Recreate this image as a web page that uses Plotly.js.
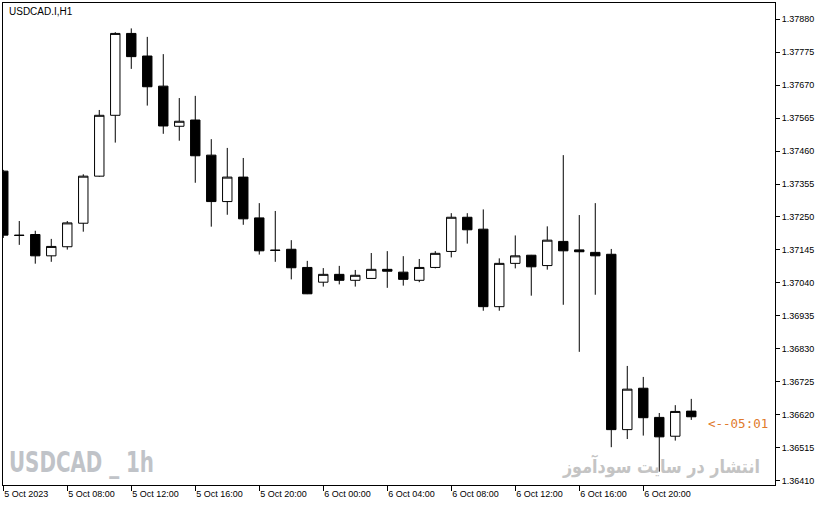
<!DOCTYPE html>
<html>
<head>
<meta charset="utf-8">
<script src="https://cdn.plot.ly/plotly-3.0.1.min.js"></script>
<style>
html,body{margin:0;padding:0;background:#fff;}
#chart{width:821px;height:506px;}
</style>
</head>
<body>
<div id="chart"></div>
<script>
var times = ["2023-10-05 04:00","2023-10-05 05:00","2023-10-05 06:00","2023-10-05 07:00","2023-10-05 08:00","2023-10-05 09:00","2023-10-05 10:00","2023-10-05 11:00","2023-10-05 12:00","2023-10-05 13:00","2023-10-05 14:00","2023-10-05 15:00","2023-10-05 16:00","2023-10-05 17:00","2023-10-05 18:00","2023-10-05 19:00","2023-10-05 20:00","2023-10-05 21:00","2023-10-05 22:00","2023-10-05 23:00","2023-10-06 00:00","2023-10-06 01:00","2023-10-06 02:00","2023-10-06 03:00","2023-10-06 04:00","2023-10-06 05:00","2023-10-06 06:00","2023-10-06 07:00","2023-10-06 08:00","2023-10-06 09:00","2023-10-06 10:00","2023-10-06 11:00","2023-10-06 12:00","2023-10-06 13:00","2023-10-06 14:00","2023-10-06 15:00","2023-10-06 16:00","2023-10-06 17:00","2023-10-06 18:00","2023-10-06 19:00","2023-10-06 20:00","2023-10-06 21:00","2023-10-06 22:00","2023-10-06 23:00"];

var openP = [1.37396,1.37192,1.37194,1.37126,1.37155,1.37230,1.37380,1.37574,1.37835,1.37763,1.37667,1.37539,1.37559,1.37447,1.37299,1.37377,1.37247,1.37143,1.37147,1.37089,1.37042,1.37067,1.37048,1.37054,1.37083,1.37074,1.37048,1.37089,1.37140,1.37249,1.37211,1.36964,1.37102,1.37128,1.37095,1.37172,1.37145,1.37137,1.37131,1.36572,1.36704,1.36611,1.36551,1.36631];
var highP = [1.37400,1.37237,1.37206,1.37180,1.37237,1.37386,1.37591,1.37839,1.37851,1.37824,1.37769,1.37629,1.37636,1.37498,1.37470,1.37438,1.37294,1.37269,1.37176,1.37110,1.37087,1.37094,1.37081,1.37135,1.37141,1.37125,1.37116,1.37141,1.37262,1.37262,1.37274,1.37118,1.37191,1.37129,1.37220,1.37447,1.37256,1.37294,1.37148,1.36775,1.36740,1.36625,1.36650,1.36670];
var lowP = [1.37183,1.37161,1.37101,1.37107,1.37146,1.37203,1.37378,1.37487,1.37722,1.37605,1.37515,1.37493,1.37359,1.37219,1.37257,1.37225,1.37130,1.37107,1.37051,1.37004,1.37028,1.37035,1.37028,1.37053,1.37024,1.37031,1.37042,1.37086,1.37121,1.37165,1.36951,1.36951,1.37086,1.36999,1.37082,1.36970,1.36820,1.37002,1.36516,1.36542,1.36553,1.36438,1.36537,1.36603];
var closeP = [1.37192,1.37191,1.37126,1.37156,1.37231,1.37380,1.37574,1.37835,1.37761,1.37665,1.37540,1.37555,1.37445,1.37299,1.37377,1.37244,1.37142,1.37144,1.37088,1.37005,1.37067,1.37048,1.37064,1.37083,1.37077,1.37051,1.37089,1.37134,1.37249,1.37209,1.36964,1.37102,1.37126,1.37091,1.37176,1.37142,1.37139,1.37126,1.36572,1.36701,1.36610,1.36549,1.36630,1.36613];

var xTickVals = ["2023-10-05 04:00","2023-10-05 08:00","2023-10-05 12:00","2023-10-05 16:00","2023-10-05 20:00","2023-10-06 00:00","2023-10-06 04:00","2023-10-06 08:00","2023-10-06 12:00","2023-10-06 16:00","2023-10-06 20:00"];
var xTickText = ["5 Oct 2023","5 Oct 08:00","5 Oct 12:00","5 Oct 16:00","5 Oct 20:00","6 Oct 00:00","6 Oct 04:00","6 Oct 08:00","6 Oct 12:00","6 Oct 16:00","6 Oct 20:00"];
var yTickText = ["1.36410","1.36515","1.36620","1.36725","1.36830","1.36935","1.37040","1.37145","1.37250","1.37355","1.37460","1.37565","1.37670","1.37775","1.37880"];

var chartTitle = "USDCAD.I,H1";
var timerText = "<--05:01";
var watermark = "USDCAD _ 1h";
var persianText = "انتشار در سایت سودآموز";

var trace = {
  type: "candlestick",
  x: times, open: openP, high: highP, low: lowP, close: closeP,
  whiskerwidth: 0,
  increasing: {line: {color: "#000000", width: 1}, fillcolor: "#ffffff"},
  decreasing: {line: {color: "#000000", width: 1}, fillcolor: "#000000"},
  hoverinfo: "skip"
};

var axisFont = {family: "Liberation Sans, Arial, sans-serif", size: 9, color: "#000000"};

var layout = {
  width: 821, height: 506,
  margin: {l: 3, r: 46, t: 3, b: 21, pad: 0},
  paper_bgcolor: "#ffffff", plot_bgcolor: "#ffffff",
  showlegend: false,
  boxgap: 0.16,
  xaxis: {
    type: "date",
    range: ["2023-10-05 03:59", "2023-10-07 04:14"],
    rangeslider: {visible: false},
    showgrid: false, zeroline: false,
    showline: true, linecolor: "#000000", linewidth: 1, mirror: true,
    ticks: "outside", ticklen: 5, tickcolor: "#000000", tickwidth: 1,
    tickmode: "array", tickvals: xTickVals, ticktext: xTickText,
    ticklabelposition: "outside right",
    tickfont: axisFont,
    fixedrange: true
  },
  yaxis: {
    side: "right",
    range: [1.363955, 1.37932],
    showgrid: false, zeroline: false,
    showline: true, linecolor: "#000000", linewidth: 1, mirror: true,
    ticks: "outside", ticklen: 4, tickcolor: "#000000", tickwidth: 1,
    tickmode: "array", tickvals: yTickText.map(parseFloat), ticktext: yTickText,
    tickfont: axisFont,
    fixedrange: true
  },
  annotations: [
    {text: chartTitle, xref: "paper", yref: "paper", x: 0, y: 1, xanchor: "left", yanchor: "top",
     xshift: 4, yshift: -1, showarrow: false, font: {family: "Liberation Sans, Arial, sans-serif", size: 10, color: "#000000"}},
    {text: timerText, xref: "paper", yref: "y", x: 0.911, y: closeP[closeP.length - 1], xanchor: "left", yanchor: "middle",
     yshift: -7, showarrow: false, font: {family: "DejaVu Sans Mono, monospace", size: 12.5, color: "#e07a2c"}},
    {text: watermark, xref: "paper", yref: "paper", x: 0, y: 0, xanchor: "left", yanchor: "bottom", align: "left",
     xshift: 4, yshift: 4, showarrow: false, font: {family: "DejaVu Sans Condensed, sans-serif", weight: "bold", size: 28, color: "#c0c3c8"}},
    {text: persianText, xref: "paper", yref: "paper", x: 0.983, y: 0, xanchor: "right", yanchor: "bottom", align: "right",
     yshift: 5, showarrow: false, font: {family: "DejaVu Sans, sans-serif", weight: "bold", size: 19, color: "#c4c4c4"}}
  ]
};

Plotly.newPlot("chart", [trace], layout, {staticPlot: true, displayModeBar: false}).then(function () {
  var texts = document.querySelectorAll("#chart text.annotation-text");
  texts.forEach(function (t) {
    if (t.textContent === watermark) {
      t.setAttribute("textLength", "145");
      t.setAttribute("lengthAdjust", "spacingAndGlyphs");
    } else if (t.textContent === persianText) {
      t.setAttribute("textLength", "197");
      t.setAttribute("lengthAdjust", "spacingAndGlyphs");
    }
  });
});
</script>
</body>
</html>
